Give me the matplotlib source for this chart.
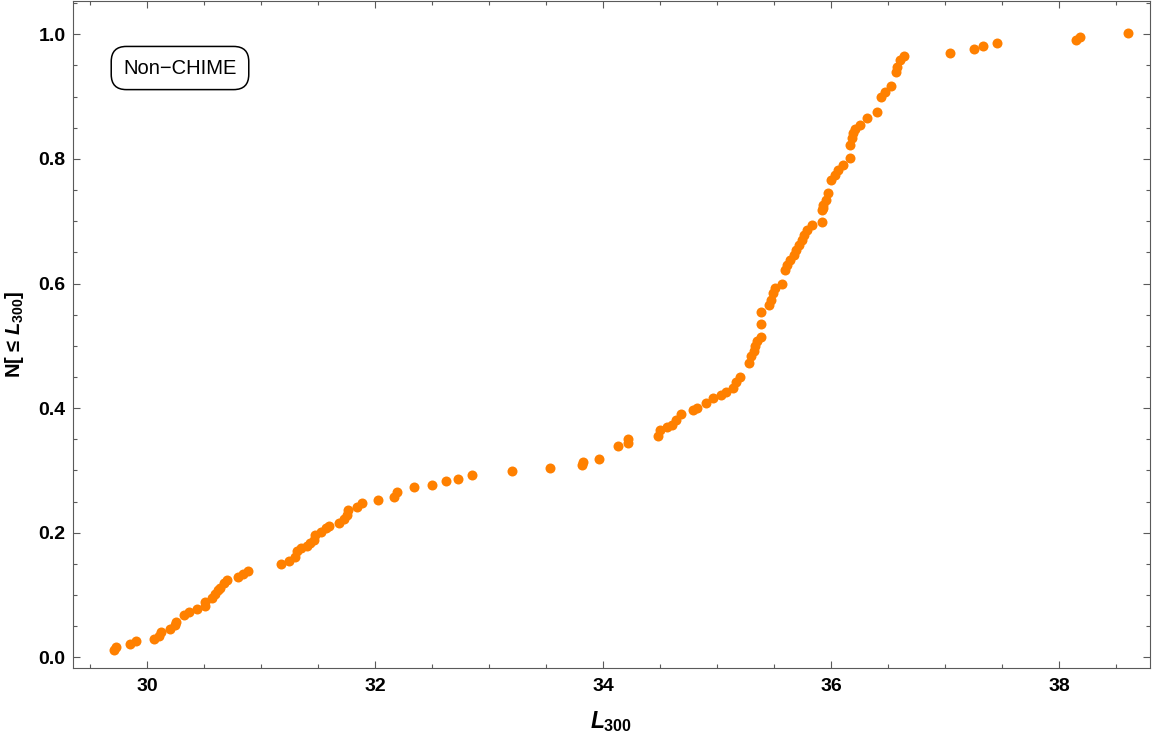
"""
Cumulative distribution of L_300 for the non-CHIME sample.
"""

import matplotlib
matplotlib.use("Agg")
import matplotlib.pyplot as plt
from matplotlib.ticker import MultipleLocator

# values
l300 = [
    29.71, 29.73, 29.85, 29.90, 30.06, 30.10, 30.12, 30.20, 30.24, 30.25,
    30.32, 30.37, 30.44, 30.51, 30.51, 30.57, 30.59, 30.62, 30.64, 30.67,
    30.70, 30.80, 30.84, 30.88,
    31.17, 31.24, 31.30, 31.31, 31.35, 31.40, 31.43, 31.46, 31.47, 31.52,
    31.57, 31.59, 31.68, 31.73, 31.75, 31.76, 31.84, 31.88, 32.02, 32.16,
    32.19, 32.34, 32.50, 32.62, 32.73, 32.85,
    33.20, 33.53, 33.81, 33.82, 33.96, 34.13, 34.22, 34.22, 34.48, 34.50,
    34.56, 34.60, 34.64, 34.68, 34.79, 34.82, 34.90, 34.96, 35.03, 35.08,
    35.14, 35.16, 35.20,
    35.28, 35.30, 35.32, 35.33, 35.35, 35.38, 35.38, 35.38, 35.45, 35.47,
    35.49, 35.51, 35.57,
    35.59, 35.61, 35.64, 35.67, 35.69, 35.72, 35.74, 35.76, 35.79, 35.83,
    35.92, 35.92, 35.93, 35.93, 35.95,
    35.97, 36.00, 36.03, 36.06, 36.10, 36.16, 36.16, 36.18, 36.19, 36.21,
    36.25, 36.31, 36.40, 36.44, 36.47, 36.52, 36.57, 36.58, 36.60, 36.64,
    37.04, 37.25, 37.33, 37.45, 38.15, 38.18, 38.60,
]
frac = [
    0.011, 0.017, 0.021, 0.026, 0.030, 0.034, 0.041, 0.046, 0.052, 0.056,
    0.068, 0.073, 0.078, 0.083, 0.088, 0.095, 0.101, 0.108, 0.112, 0.119,
    0.124, 0.129, 0.134, 0.139,
    0.150, 0.155, 0.161, 0.170, 0.175, 0.179, 0.183, 0.189, 0.196, 0.201,
    0.207, 0.211, 0.215, 0.222, 0.228, 0.236, 0.242, 0.247, 0.252, 0.258,
    0.266, 0.273, 0.277, 0.283, 0.287, 0.292,
    0.299, 0.304, 0.309, 0.314, 0.318, 0.339, 0.344, 0.350, 0.355, 0.365,
    0.369, 0.373, 0.381, 0.391, 0.397, 0.400, 0.408, 0.416, 0.421, 0.426,
    0.433, 0.442, 0.450,
    0.472, 0.483, 0.491, 0.499, 0.507, 0.514, 0.535, 0.554, 0.565, 0.574,
    0.584, 0.592, 0.599,
    0.622, 0.630, 0.638, 0.646, 0.654, 0.662, 0.670, 0.678, 0.686, 0.694,
    0.698, 0.718, 0.721, 0.726, 0.734,
    0.746, 0.766, 0.774, 0.782, 0.790, 0.801, 0.822, 0.833, 0.841, 0.848,
    0.854, 0.865, 0.876, 0.900, 0.908, 0.917, 0.940, 0.948, 0.958, 0.965,
    0.970, 0.976, 0.981, 0.986, 0.991, 0.995, 1.002,
]
x_ticks = [30, 32, 34, 36, 38]
y_ticks = [0.0, 0.2, 0.4, 0.6, 0.8, 1.0]

plt.rcParams["font.family"] = ["Liberation Sans", "DejaVu Sans"]
plt.rcParams["mathtext.fontset"] = "custom"
plt.rcParams["mathtext.it"] = "Liberation Sans:italic:bold"
plt.rcParams["mathtext.rm"] = "Liberation Sans:bold"
plt.rcParams["mathtext.bf"] = "Liberation Sans:bold"

fig = plt.figure(figsize=(11.52, 7.35), dpi=100)
ax = fig.add_axes([0.0631, 0.0907, 0.9352, 0.9079])

ax.plot(l300, frac, "o", color="#ff8000", markersize=7.2,
        markeredgewidth=0, zorder=3)

ax.set_xlim(29.346, 38.796)
ax.set_ylim(-0.0177, 1.0534)
ax.set_xticks(x_ticks)
ax.set_yticks(y_ticks)
ax.xaxis.set_minor_locator(MultipleLocator(0.5))
ax.yaxis.set_minor_locator(MultipleLocator(0.05))

frame_col = "#5a5a5a"
for sp in ax.spines.values():
    sp.set_color(frame_col)
    sp.set_linewidth(0.8)
ax.tick_params(which="both", direction="in", top=True, right=True,
               color=frame_col, width=0.8)
ax.tick_params(which="major", length=5.2)
ax.tick_params(which="minor", length=3.2)
ax.tick_params(axis="x", which="major", pad=7, labelsize=14)
ax.tick_params(axis="y", which="major", pad=5, labelsize=14)
for lab in ax.get_xticklabels() + ax.get_yticklabels():
    lab.set_fontweight("bold")
ax.yaxis.set_major_formatter(plt.FuncFormatter(lambda v, _: f"{v:.1f}"))

ax.set_xlabel(r"$L_{300}$", fontsize=16.5, labelpad=10)
ax.set_ylabel(r"N[ ≤ $L_{300}$]", fontsize=14.5, fontweight="bold", labelpad=9)

ax.text(0.0996, 0.8996, "Non\u2212CHIME", transform=ax.transAxes,
        ha="center", va="center", fontsize=14.5,
        bbox=dict(boxstyle="round,pad=0.6,rounding_size=0.75",
                  facecolor="white", edgecolor="black", linewidth=1.1))

fig.savefig("out.png", dpi=100)
